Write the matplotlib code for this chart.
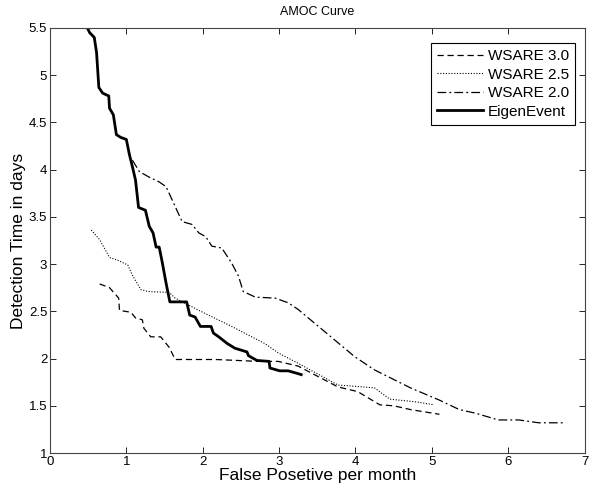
import matplotlib
matplotlib.use("Agg")
import matplotlib.pyplot as plt

plt.rcParams['font.family'] = ['Liberation Sans', 'DejaVu Sans']

# EigenEvent
eig_x = [0.49, 0.52, 0.58, 0.61, 0.64, 0.69, 0.77, 0.78, 0.83, 0.87, 0.93, 1.00, 1.04, 1.08, 1.12,
         1.16, 1.25, 1.30, 1.35, 1.39, 1.43, 1.47, 1.52, 1.57, 1.79, 1.83, 1.90, 1.97, 2.11, 2.14,
         2.21, 2.32, 2.42, 2.58, 2.60, 2.71, 2.87, 2.88, 3.01, 3.12, 3.25, 3.29]
eig_y = [5.50, 5.45, 5.40, 5.24, 4.87, 4.81, 4.78, 4.65, 4.58, 4.37, 4.34, 4.32, 4.16, 4.03, 3.89,
         3.60, 3.57, 3.40, 3.33, 3.18, 3.18, 3.02, 2.80, 2.60, 2.60, 2.46, 2.44, 2.34, 2.34, 2.27,
         2.23, 2.16, 2.11, 2.07, 2.03, 1.98, 1.97, 1.90, 1.87, 1.87, 1.84, 1.83]

# WSARE 3.0
w30_x = [0.65, 0.78, 0.90, 0.91, 1.06, 1.12, 1.21, 1.23, 1.32, 1.45, 1.56, 1.64, 2.17, 2.73, 2.99,
         3.25, 3.77, 4.03, 4.32, 4.50, 4.72, 5.10]
w30_y = [2.79, 2.75, 2.64, 2.51, 2.49, 2.43, 2.41, 2.32, 2.23, 2.23, 2.12, 1.99, 1.99, 1.97, 1.97,
         1.92, 1.70, 1.65, 1.51, 1.50, 1.46, 1.41]

# WSARE 2.5
w25_x = [0.54, 0.65, 0.78, 0.89, 1.02, 1.08, 1.19, 1.28, 1.56, 1.64, 1.95, 2.38, 2.81, 2.99, 3.25,
         3.77, 4.25, 4.45, 4.81, 5.03]
w25_y = [3.36, 3.26, 3.07, 3.04, 2.99, 2.88, 2.73, 2.71, 2.70, 2.64, 2.51, 2.34, 2.16, 2.06, 1.95,
         1.72, 1.69, 1.57, 1.54, 1.51]

# WSARE 2.0
w20_x = [1.08, 1.17, 1.30, 1.43, 1.52, 1.60, 1.73, 1.86, 1.95, 2.04, 2.12, 2.25, 2.38, 2.47, 2.53,
         2.69, 2.95, 3.12, 3.25, 3.99, 4.25, 4.72, 5.10, 5.36, 5.58, 5.87, 6.14, 6.40, 6.75]
w20_y = [4.10, 3.98, 3.92, 3.87, 3.82, 3.68, 3.45, 3.42, 3.33, 3.29, 3.19, 3.17, 3.01, 2.87, 2.71,
         2.65, 2.64, 2.59, 2.52, 2.02, 1.88, 1.69, 1.56, 1.46, 1.42, 1.35, 1.35, 1.32, 1.32]

x_ticks = [0, 1, 2, 3, 4, 5, 6, 7]
y_ticks = [1, 1.5, 2, 2.5, 3, 3.5, 4, 4.5, 5, 5.5]
y_tick_labels = ['1', '1.5', '2', '2.5', '3', '3.5', '4', '4.5', '5', '5.5']

fig = plt.figure(figsize=(5.9, 4.88), dpi=100)
ax = fig.add_axes([0.0847, 0.0717, 0.906, 0.871])

ax.plot(w30_x, w30_y, color='black', lw=0.9, ls=(0, (5, 3)), label='WSARE 3.0')
ax.plot(w25_x, w25_y, color='black', lw=0.8, ls=(0, (1, 1.5)), label='WSARE 2.5')
ax.plot(w20_x, w20_y, color='black', lw=0.9, ls=(0, (7, 2.5, 1.5, 2.5)), label='WSARE 2.0')
ax.plot(eig_x, eig_y, color='black', lw=2.0, ls='-', label='EigenEvent')

ax.set_xlim(0, 7)
ax.set_ylim(1, 5.5)
ax.set_xticks(x_ticks)
ax.set_yticks(y_ticks)
ax.set_yticklabels(y_tick_labels)
ax.tick_params(direction='in', top=True, right=True, labelsize=9.5, length=4, width=0.6, pad=2)
for s in ax.spines.values():
    s.set_linewidth(0.8)
    s.set_color('#444444')

ax.set_title('AMOC Curve', fontsize=9, pad=9)
ax.set_xlabel('False Posetive per month', fontsize=12.5, labelpad=0)
ax.set_ylabel('Detection Time in days', fontsize=12.5, labelpad=2)

leg = ax.legend(loc='upper right', bbox_to_anchor=(0.982, 0.965), fontsize=11, fancybox=False,
                framealpha=1, edgecolor='black', handlelength=3.0, borderpad=0.4,
                labelspacing=0.3, handletextpad=0.3, borderaxespad=0.0)
leg.get_frame().set_linewidth(0.8)

fig.savefig('out.png', dpi=100)
